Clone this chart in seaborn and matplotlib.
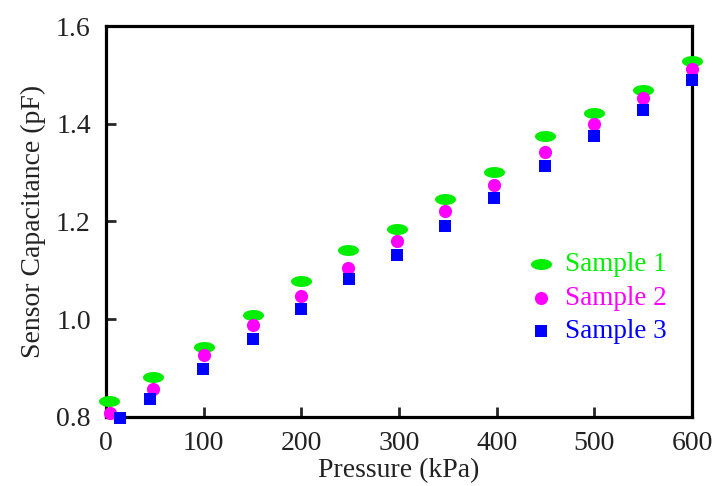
import numpy as np
import pandas as pd
import matplotlib
matplotlib.use("Agg")
import matplotlib.pyplot as plt
from matplotlib.path import Path
import seaborn as sns

sns.set_style("white")
plt.rcParams['font.family'] = ['Liberation Serif', 'DejaVu Serif']

# pressure (kPa) for each sample
p1 = [3, 48, 100, 150, 200, 248, 298, 347, 397, 450, 500, 550, 600]
p2 = [4, 48, 100, 150, 200, 248, 298, 347, 397, 450, 500, 550, 600]
p3 = [14, 45, 99, 150, 200, 249, 298, 347, 397, 450, 500, 550, 600]

# sensor capacitance (pF)
c1 = [0.833, 0.882, 0.943, 1.009, 1.078, 1.142, 1.185, 1.246, 1.301, 1.375, 1.422, 1.469, 1.528]
c2 = [0.808, 0.857, 0.927, 0.988, 1.048, 1.105, 1.160, 1.221, 1.275, 1.342, 1.400, 1.453, 1.512]
c3 = [0.798, 0.837, 0.898, 0.960, 1.021, 1.082, 1.131, 1.191, 1.248, 1.314, 1.375, 1.428, 1.490]

labels = ["Sample 1", "Sample 2", "Sample 3"]
colors = ["#00ee00", "#ff00ff", "#0000ff"]

# flat ellipse marker for sample 1
t = np.linspace(0, 2*np.pi, 40)
ellipse = Path(np.column_stack([np.cos(t), 0.52*np.sin(t)]), closed=True)

fig = plt.figure(figsize=(7.13, 4.86), dpi=100)
ax = fig.add_axes([0.1487, 0.142, 0.8218, 0.8045])

df1 = pd.DataFrame({'p': p1, 'c': c1})
df2 = pd.DataFrame({'p': p2, 'c': c2})
df3 = pd.DataFrame({'p': p3, 'c': c3})

sns.scatterplot(x='p', y='c', data=df1, ax=ax, marker=ellipse, s=230, color=colors[0],
                linewidth=0, label=labels[0], clip_on=False, zorder=3)
sns.scatterplot(x='p', y='c', data=df2, ax=ax, marker='o', s=90, color=colors[1],
                linewidth=0, label=labels[1], clip_on=False, zorder=3)
sns.scatterplot(x='p', y='c', data=df3, ax=ax, marker='s', s=85, color=colors[2],
                linewidth=0, label=labels[2], clip_on=False, zorder=3)

ax.set_xlim(0, 600)
ax.set_ylim(0.8, 1.6)
ax.set_xticks([0, 100, 200, 300, 400, 500, 600])
ax.set_yticks([0.8, 1.0, 1.2, 1.4, 1.6])
ax.set_yticklabels(['0.8', '1.0', '1.2', '1.4', '1.6'])
ax.tick_params(direction='in', length=7, width=2, labelsize=20,
               bottom=True, left=True, top=False, right=False, labelcolor='#222222')
ax.tick_params(axis='x', pad=10)
ax.tick_params(axis='y', pad=11)
for s in ax.spines.values():
    s.set_linewidth(2.3)
    s.set_color('black')

ax.set_xlabel('Pressure (kPa)', fontsize=20, color='#222222')
ax.set_ylabel('Sensor Capacitance (pF)', fontsize=20, color='#222222')
ax.xaxis.set_label_coords(0.5, -0.104)
ax.yaxis.set_label_coords(-0.103, 0.5)

leg = ax.legend(loc='center left', bbox_to_anchor=(0.70, 0.304), frameon=False,
                fontsize=19.5, labelcolor=colors, handlelength=1.0, handletextpad=0.4,
                labelspacing=0.32, borderaxespad=0)

fig.savefig('out.png', dpi=100)
